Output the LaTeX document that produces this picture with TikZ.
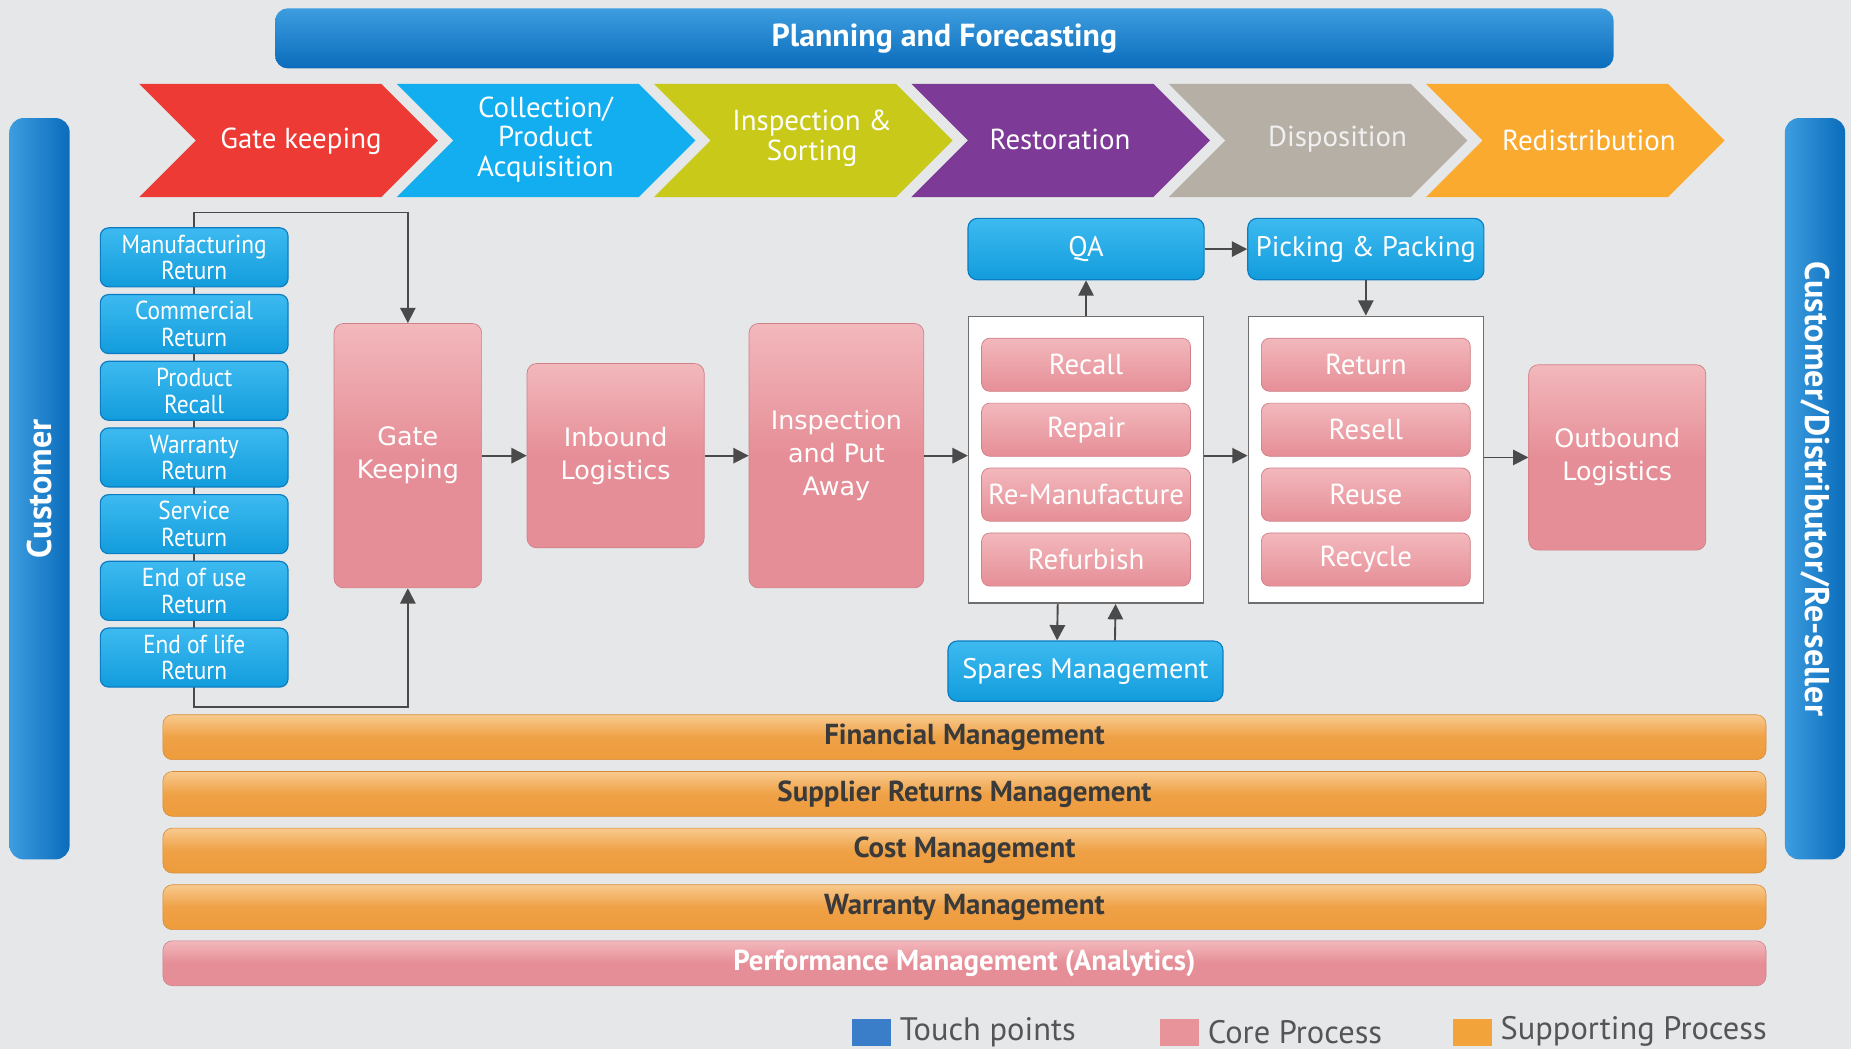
\documentclass[tikz,border=0pt]{standalone}
\usepackage{fontspec}
\setmainfont{PT Sans}
\newfontfamily\condfont[FakeStretch=0.9]{PT Sans}
\newfontfamily\widefont{DejaVu Sans}
\usetikzlibrary{arrows.meta}
\definecolor{bg}{HTML}{E6E7E9}
\definecolor{bluetop}{HTML}{3D9DE0}
\definecolor{bluebot}{HTML}{0A6CBB}
\definecolor{tptop}{HTML}{3DBAF0}
\definecolor{tpbot}{HTML}{129CDC}
\definecolor{tpline}{HTML}{0C7DC2}
\definecolor{pinktop}{HTML}{F2B8BC}
\definecolor{pinkbot}{HTML}{E68E97}
\definecolor{orgtop}{HTML}{F8CA8E}
\definecolor{orgbot}{HTML}{EE9C3C}
\definecolor{chred}{HTML}{EE3A35}
\definecolor{chcyan}{HTML}{12AEEF}
\definecolor{chyel}{HTML}{C9C91A}
\definecolor{chpur}{HTML}{7D3A96}
\definecolor{chtan}{HTML}{B6AFA6}
\definecolor{chorg}{HTML}{FBAA30}
\definecolor{arrcol}{HTML}{4A4A4A}
\definecolor{bartext}{HTML}{3A3A3A}
\definecolor{legtext}{HTML}{555555}
\definecolor{legblue}{HTML}{3A7DC9}
\definecolor{legpink}{HTML}{E8939A}
\definecolor{legorg}{HTML}{F2A33A}
\tikzset{
  plan/.style={rounded corners=11pt, top color=bluetop, bottom color=bluebot, draw=none,
    text=white, font=\fontsize{27}{30}\selectfont\bfseries},
  sidebar/.style={rounded corners=12pt, left color=bluetop, right color=bluebot, draw=none},
  sidelabel/.style={text=white, font=\fontsize{29}{31}\selectfont\bfseries},
  chevtext/.style={text=white, align=center, font=\fontsize{24.5}{25}\selectfont},
  touch/.style={rounded corners=7pt, top color=tptop, bottom color=tpbot, draw=tpline, line width=1pt,
    minimum width=159pt, minimum height=50pt, text=white, align=center,
    font=\condfont\fontsize{22}{22.5}\selectfont, inner sep=0pt},
  bluebox/.style={rounded corners=8pt, top color=tptop, bottom color=tpbot, draw=tpline, line width=1pt,
    text=white, align=center, font=\fontsize{24}{26}\selectfont, inner sep=0pt},
  core/.style={rounded corners=8pt, top color=pinktop, bottom color=pinkbot, middle color=pinkbot,
    draw=pinkbot!90!black, line width=0.6pt,
    text=white, align=center, font=\widefont\fontsize{21.5}{28}\selectfont, inner sep=0pt},
  inner/.style={rounded corners=7pt, top color=pinktop, bottom color=pinkbot, draw=pinkbot!90!black, line width=0.6pt,
    minimum width=177pt, minimum height=45pt, text=white, font=\fontsize{24.5}{26}\selectfont, inner sep=0pt},
  group/.style={fill=white, draw=arrcol!80, line width=1.3pt, inner sep=0pt},
  support/.style={rounded corners=8pt, top color=orgtop, bottom color=orgbot, middle color=orgbot!95!white,
    draw=orgbot!90!black, line width=0.5pt, minimum width=1358pt, minimum height=38pt,
    text=bartext, font=\fontsize{24.5}{26}\selectfont\bfseries, inner sep=0pt},
  perf/.style={support, top color=pinktop, bottom color=pinkbot, middle color=pinkbot,
    draw=pinkbot!90!black, text=white},
  arr/.style={draw=arrcol, line width=1.6pt, -{Triangle[length=13pt,width=13pt]}},
  conn/.style={draw=arrcol, line width=1.6pt},
  legsq/.style={minimum width=33pt, minimum height=23pt, inner sep=0pt, draw=none},
  legtxt/.style={anchor=west, text=legtext, font=\fontsize{27.5}{29}\selectfont, inner sep=0pt}
}
\begin{document}
\begin{tikzpicture}[x=1pt,y=-1pt]
\useasboundingbox (0,0) rectangle (1568,889);
\fill[bg] (0,0) rectangle (1568,889);

% Planning bar
\node[plan, minimum width=1134pt, minimum height=51pt] (pf) at (800,32.5) {Planning and Forecasting};

% Chevrons
\fill[chred]  (118,71) -- (323,71) -- (371,119) -- (323,167) -- (118,167) -- (166,119) -- cycle;
\fill[chcyan] (336,71) -- (541,71) -- (589,119) -- (541,167) -- (336,167) -- (384,119) -- cycle;
\fill[chyel]  (554,71) -- (759,71) -- (807,119) -- (759,167) -- (554,167) -- (602,119) -- cycle;
\fill[chpur]  (772,71) -- (977,71) -- (1025,119) -- (977,167) -- (772,167) -- (820,119) -- cycle;
\fill[chtan]  (990,71) -- (1195,71) -- (1243,119) -- (1195,167) -- (990,167) -- (1038,119) -- cycle;
\fill[chorg]  (1208,71) -- (1413,71) -- (1461,119) -- (1413,167) -- (1208,167) -- (1256,119) -- cycle;
\node[chevtext] (c1) at (255,120) {Gate keeping};
\node[chevtext] (c2) at (462,118) {Collection/\\Product\\Acquisition};
\node[chevtext] (c3) at (688,117) {Inspection \&\\Sorting};
\node[chevtext] (c4) at (898,118) {Restoration};
\node[chevtext, text=white!94!black] (c5) at (1133,118) {Disposition};
\node[chevtext] (c6) at (1346,119) {Redistribution};

% Side bars
\node[sidebar, minimum width=51pt, minimum height=628pt] (cust) at (33.5,414) {};
\node[sidelabel, rotate=90] (custl) at (cust) {Customer};
\node[sidebar, minimum width=51pt, minimum height=628pt] (cdr) at (1537.5,414) {};
\node[sidelabel, rotate=-90] (cdrl) at (cdr) {Customer/Distributor/Re-seller};

% Touch points
\coordinate (tjtop) at (164.5,180);
\coordinate (tjbot) at (164.5,599);
\draw[conn] (tjtop) -- (tjbot);
\node[touch] (tp1) at (164.5,218) {Manufacturing\\Return};
\node[touch] (tp2) at (164.5,274.5) {Commercial\\Return};
\node[touch] (tp3) at (164.5,331) {Product\\Recall};
\node[touch] (tp4) at (164.5,387.5) {Warranty\\Return};
\node[touch] (tp5) at (164.5,444) {Service\\Return};
\node[touch] (tp6) at (164.5,500.5) {End of use\\Return};
\node[touch] (tp7) at (164.5,557) {End of life\\Return};

% Core process boxes
\node[core, minimum width=125pt, minimum height=224pt] (gk) at (345.5,386) {Gate\\Keeping};
\node[core, minimum width=150pt, minimum height=156pt] (inb) at (521.5,386) {Inbound\\Logistics};
\node[core, minimum width=148pt, minimum height=224pt] (insp) at (708.5,386) {Inspection\\and Put\\Away};
\node[core, minimum width=150pt, minimum height=157pt] (outb) at (1370,387.5) {Outbound\\Logistics};

\draw[arr] (tp1.north) -- (tjtop) -| (gk.north);
\draw[arr] (tp7.south) -- (tjbot) -| (gk.south);

% Groups
\node[group, minimum width=199pt, minimum height=243pt] (grpL) at (920,389.5) {};
\node[group, minimum width=199pt, minimum height=243pt] (grpR) at (1157,389.5) {};
\node[inner] (rc) at (920,309) {Recall};
\node[inner] (rp) at (920,364) {Repair};
\node[inner] (rm) at (920,419) {Re-Manufacture};
\node[inner] (rf) at (920,474) {Refurbish};
\node[inner] (rt) at (1157,309) {Return};
\node[inner] (rs) at (1157,364) {Resell};
\node[inner] (ru) at (1157,419) {Reuse};
\node[inner] (ry) at (1157,474) {Recycle};

% Blue boxes
\node[bluebox, minimum width=200pt, minimum height=52pt] (qa) at (920,211) {QA};
\node[bluebox, minimum width=200pt, minimum height=52pt] (pp) at (1157,211) {Picking \& Packing};
\node[bluebox, minimum width=233pt, minimum height=51pt] (sp) at (919.5,568.5) {Spares Management};

% Arrows
\draw[arr] (gk.east) -- (inb.west);
\draw[arr] (inb.east) -- (insp.west);
\draw[arr] (insp.east) -- (insp.east -| grpL.west);
\draw[arr] (grpL.east |- insp.east) -- (grpR.west |- insp.east);
\draw[arr] (grpR.east |- outb.west) -- (outb.west);
\draw[arr] (grpL.north) -- (qa.south);
\draw[arr] (qa.east) -- (pp.west);
\draw[arr] (pp.south) -- (grpR.north);
\draw[arr] ([xshift=-24pt]grpL.south) -- ([xshift=-24pt]sp.north);
\draw[arr] ([xshift=25pt]sp.north) -- ([xshift=25pt]grpL.south);

% Supporting bars
\node[support] (fin) at (817,624.5) {Financial Management};
\node[support] (sup) at (817,672.5) {Supplier Returns Management};
\node[support] (cost) at (817,720.5) {Cost Management};
\node[support] (war) at (817,768.5) {Warranty Management};
\node[perf] (perfm) at (817,816) {Performance Management (Analytics)};

% Legend
\node[legsq, fill=legblue] (lb) at (738.5,874.5) {};
\node[legtxt] (lbt) at (762,874) {Touch points};
\node[legsq, fill=legpink] (lp) at (999.5,874.5) {};
\node[legtxt] (lpt) at (1023,874) {Core Process};
\node[legsq, fill=legorg] (lo) at (1247,874.5) {};
\node[legtxt] (lot) at (1271,874) {Supporting Process};
\end{tikzpicture}
\end{document}
